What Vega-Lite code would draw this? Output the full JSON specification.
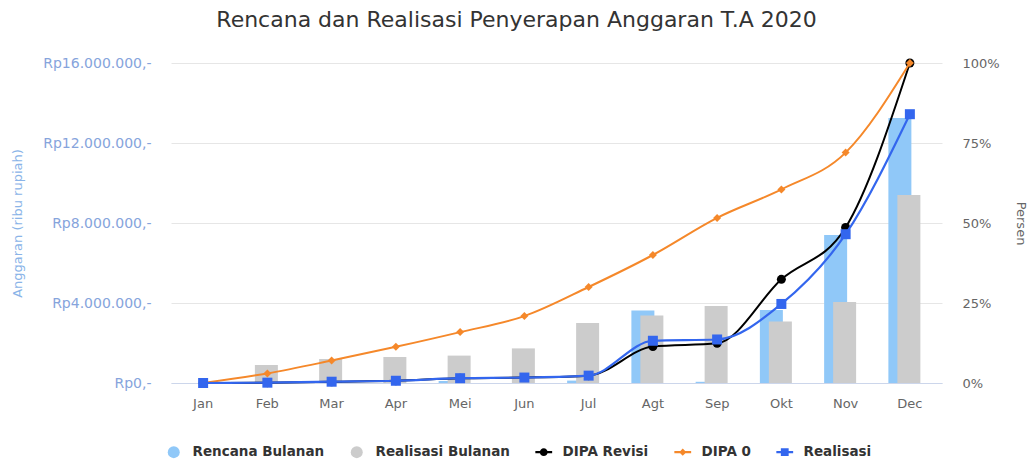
{
  "$schema": "https://vega.github.io/schema/vega-lite/v6.json",
  "width": 771,
  "height": 320,
  "autosize": {"type": "none"},
  "padding": {"left": 171, "top": 63, "right": 91, "bottom": 81},
  "background": "white",
  "config": {"view": {"stroke": null}, "font": "DejaVu Sans"},
  "title": {
    "text": "Rencana dan Realisasi Penyerapan Anggaran T.A 2020",
    "fontSize": 22,
    "fontWeight": "normal",
    "color": "#333333",
    "font": "DejaVu Sans",
    "anchor": "middle",
    "dx": -40,
    "offset": 24
  },
  "data": {
    "values": [
      {"bulan": "Jan", "rencana": 0, "realisasiBulanan": 0, "dipaRevisi": 0, "dipa0": 0, "realisasi": 0},
      {"bulan": "Feb", "rencana": 0, "realisasiBulanan": 900000, "dipaRevisi": 0.1, "dipa0": 3.0, "realisasi": 0.1},
      {"bulan": "Mar", "rencana": 0, "realisasiBulanan": 1200000, "dipaRevisi": 0.4, "dipa0": 7.0, "realisasi": 0.4},
      {"bulan": "Apr", "rencana": 0, "realisasiBulanan": 1300000, "dipaRevisi": 0.7, "dipa0": 11.3, "realisasi": 0.7},
      {"bulan": "Mei", "rencana": 100000, "realisasiBulanan": 1370000, "dipaRevisi": 1.5, "dipa0": 15.9, "realisasi": 1.5},
      {"bulan": "Jun", "rencana": 0, "realisasiBulanan": 1730000, "dipaRevisi": 1.7, "dipa0": 20.9, "realisasi": 1.7},
      {"bulan": "Jul", "rencana": 120000, "realisasiBulanan": 3000000, "dipaRevisi": 2.3, "dipa0": 30.0, "realisasi": 2.3},
      {"bulan": "Agt", "rencana": 3620000, "realisasiBulanan": 3370000, "dipaRevisi": 11.4, "dipa0": 40.0, "realisasi": 13.2},
      {"bulan": "Sep", "rencana": 60000, "realisasiBulanan": 3850000, "dipaRevisi": 12.4, "dipa0": 51.6, "realisasi": 13.6},
      {"bulan": "Okt", "rencana": 3650000, "realisasiBulanan": 3080000, "dipaRevisi": 32.4, "dipa0": 60.5, "realisasi": 24.7},
      {"bulan": "Nov", "rencana": 7400000, "realisasiBulanan": 4050000, "dipaRevisi": 48.6, "dipa0": 72.0, "realisasi": 46.5},
      {"bulan": "Dec", "rencana": 13250000, "realisasiBulanan": 9400000, "dipaRevisi": 100, "dipa0": 100, "realisasi": 84.0}
    ]
  },
  "encoding": {
    "x": {
      "field": "bulan",
      "type": "nominal",
      "scale": {"domain": ["Jan","Feb","Mar","Apr","Mei","Jun","Jul","Agt","Sep","Okt","Nov","Dec"], "paddingInner": 0, "paddingOuter": 0},
      "axis": {
        "title": null,
        "labelAngle": 0,
        "domainColor": "#ccd6eb",
        "ticks": false,
        "grid": false,
        "labelColor": "#666666",
        "labelFontSize": 13,
        "labelPadding": 14,
        "labelFont": "DejaVu Sans"
      }
    }
  },
  "layer": [
    {
      "layer": [
        {
          "mark": {"type": "bar", "width": 23, "xOffset": -10},
          "encoding": {
            "y": {
              "field": "rencana",
              "type": "quantitative",
              "scale": {"domain": [0, 16000000], "nice": false},
              "axis": {
                "orient": "left",
                "values": [0, 4000000, 8000000, 12000000, 16000000],
                "labelExpr": "'Rp' + replace(replace(format(datum.value, ','), ',', '.'), ',', '.') + ',-'",
                "title": "Anggaran (ribu rupiah)",
                "titleColor": "#8ab4e8",
                "titleFontSize": 13,
                "titleFontWeight": "normal",
                "titleFont": "DejaVu Sans",
                "labelColor": "#86a4dc",
                "labelFontSize": 14,
                "labelFont": "DejaVu Sans",
                "domain": false,
                "ticks": false,
                "labelPadding": 20,
                "titlePadding": 18,
                "grid": true,
                "gridColor": "#e6e6e6"
              }
            },
            "color": {
              "datum": "Rencana Bulanan",
              "type": "nominal",
              "scale": {
                "domain": ["Rencana Bulanan", "Realisasi Bulanan", "DIPA Revisi", "DIPA 0", "Realisasi"],
                "range": ["#90c8f8", "#cccccc", "#000000", "#f5882a", "#3366ee"]
              },
              "legend": {
                "orient": "none",
                "legendX": -4,
                "legendY": 382,
                "direction": "horizontal",
                "title": null,
                "padding": 0,
                "labelFont": "DejaVu Sans",
                "labelFontSize": 13.5,
                "labelFontWeight": "bold",
                "labelColor": "#333333",
                "symbolSize": 144,
                "labelOffset": 12,
                "columnPadding": 25,
                "encode": {
                  "symbols": {
                    "update": {
                      "shape": {"signal": "datum.value === 'DIPA Revisi' ? 'M-1.4,-0.17H1.4V0.17H-1.4Z M0.65,0A0.65,0.65 0 1,1 -0.65,0A0.65,0.65 0 1,1 0.65,0Z' : datum.value === 'DIPA 0' ? 'M-1.4,-0.17H1.4V0.17H-1.4Z M0,-0.6L0.6,0L0,0.6L-0.6,0Z' : datum.value === 'Realisasi' ? 'M-1.4,-0.17H1.4V0.17H-1.4Z M-0.65,-0.65H0.65V0.65H-0.65Z' : 'circle'"},
                      "fill": {"signal": "scale('color', datum.value)"},
                      "stroke": {"value": "transparent"},
                      "strokeWidth": {"value": 0},
                      "opacity": {"value": 1}
                    }
                  }
                }
              }
            }
          }
        },
        {
          "mark": {"type": "bar", "width": 23, "xOffset": -1},
          "encoding": {
            "y": {"field": "realisasiBulanan", "type": "quantitative"},
            "color": {"datum": "Realisasi Bulanan", "type": "nominal"}
          }
        }
      ]
    },
    {
      "layer": [
        {
          "mark": {"type": "line", "interpolate": "monotone", "strokeWidth": 2, "point": {"filled": true, "shape": "circle", "size": 81, "opacity": 1}},
          "encoding": {
            "y": {
              "field": "dipaRevisi",
              "type": "quantitative",
              "scale": {"domain": [0, 100], "nice": false},
              "axis": {
                "orient": "right",
                "values": [0, 25, 50, 75, 100],
                "labelExpr": "datum.value + '%'",
                "title": "Persen",
                "titleColor": "#666666",
                "titleFontSize": 13,
                "titleFontWeight": "normal",
                "titleFont": "DejaVu Sans",
                "labelColor": "#666666",
                "labelFontSize": 13,
                "labelFont": "DejaVu Sans",
                "domain": false,
                "ticks": false,
                "grid": false,
                "labelPadding": 20,
                "titlePadding": 14
              }
            },
            "color": {"datum": "DIPA Revisi", "type": "nominal"}
          }
        },
        {
          "mark": {"type": "line", "interpolate": "monotone", "strokeWidth": 2, "point": {"filled": true, "shape": "diamond", "size": 64, "opacity": 1}},
          "encoding": {
            "y": {"field": "dipa0", "type": "quantitative"},
            "color": {"datum": "DIPA 0", "type": "nominal"}
          }
        },
        {
          "mark": {"type": "line", "interpolate": "monotone", "strokeWidth": 2.2, "point": {"filled": true, "shape": "square", "size": 100, "opacity": 1}},
          "encoding": {
            "y": {"field": "realisasi", "type": "quantitative"},
            "color": {"datum": "Realisasi", "type": "nominal"}
          }
        }
      ]
    }
  ],
  "resolve": {"scale": {"y": "independent"}}
}
